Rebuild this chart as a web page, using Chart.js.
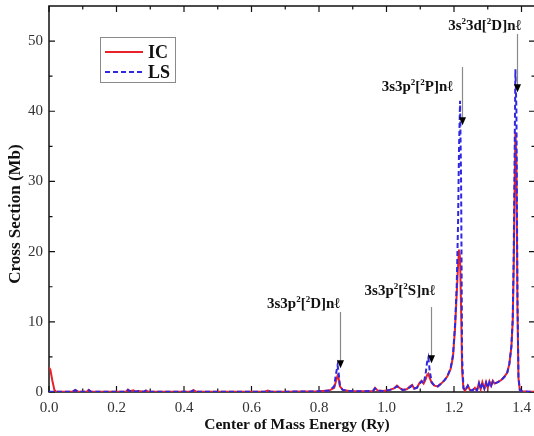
<!DOCTYPE html>
<html lang="en">
<head>
<meta charset="UTF-8">
<title>Cross Section: IC vs LS</title>
<script src="https://cdn.jsdelivr.net/npm/chart.js"></script>
<style>
  html, body { margin: 0; padding: 0; background: #fff; overflow: hidden; }
  canvas { display: block; }
</style>
</head>
<body>
<canvas id="myChart" width="540" height="436"></canvas>
<script>
// center of mass energy (Ry)
const energy = [
  0.000, 0.004, 0.010, 0.016, 0.022, 0.050, 0.070, 0.078, 0.086, 0.100,
  0.112, 0.118, 0.124, 0.150, 0.200, 0.228, 0.234, 0.240, 0.250, 0.256,
  0.265, 0.280, 0.287, 0.295, 0.330, 0.400, 0.420, 0.428, 0.436, 0.480,
  0.560, 0.600, 0.640, 0.648, 0.656, 0.700, 0.760, 0.800, 0.830, 0.845,
  0.850, 0.855, 0.858, 0.862, 0.870, 0.890, 0.930, 0.960, 0.966, 0.974,
  0.990, 1.010, 1.022, 1.031, 1.038, 1.048, 1.060, 1.070, 1.076, 1.082,
  1.090, 1.098, 1.104, 1.110, 1.116, 1.120, 1.124, 1.128, 1.134, 1.142,
  1.152, 1.162, 1.172, 1.180, 1.190, 1.197, 1.203, 1.208, 1.212, 1.215,
  1.218, 1.221, 1.224, 1.228, 1.233, 1.241, 1.247, 1.254, 1.262, 1.268,
  1.274, 1.279, 1.284, 1.290, 1.295, 1.300, 1.305, 1.310, 1.315, 1.320,
  1.330, 1.340, 1.350, 1.358, 1.364, 1.370, 1.374, 1.377, 1.380, 1.382,
  1.385, 1.388, 1.391, 1.395, 1.400, 1.420, 1.440
];
// cross section (Mb), intermediate coupling
const icValues = [
  3.5, 3.2, 1.6, 0.3, 0.02, 0.02, 0.05, 0.3, 0.05, 0.03,
  0.05, 0.3, 0.05, 0.02, 0.03, 0.05, 0.35, 0.1, 0.25, 0.05,
  0.15, 0.03, 0.2, 0.03, 0.05, 0.03, 0.05, 0.25, 0.05, 0.03,
  0.05, 0.05, 0.05, 0.2, 0.05, 0.05, 0.06, 0.1, 0.2, 0.6,
  1.5, 2.3, 2.0, 0.8, 0.3, 0.15, 0.1, 0.15, 0.6, 0.2,
  0.15, 0.3, 0.5, 0.9, 0.6, 0.3, 0.4, 0.8, 1.0, 0.5,
  0.6, 1.3, 1.6, 1.2, 1.8, 2.4, 2.6, 2.0, 1.3, 0.9,
  0.8, 1.2, 1.7, 2.2, 3.3, 5.0, 9, 14, 18, 20.3,
  19, 12, 3, 0.5, 0.2, 0.9, 0.3, 0.2, 0.6, 0.2,
  1.3, 0.4, 1.4, 0.5, 1.4, 0.6, 1.5, 0.9, 1.6, 1.2,
  1.4, 1.7, 2.2, 2.8, 4.0, 6.4, 10, 18, 30, 37,
  33, 12, 2, 0.3, 0.1, 0.05, 0.05
];
// cross section (Mb), LS coupling
const lsValues = [
  0.05, 0.05, 0.05, 0.05, 0.03, 0.02, 0.05, 0.25, 0.05, 0.03,
  0.05, 0.25, 0.05, 0.02, 0.03, 0.05, 0.3, 0.1, 0.2, 0.05,
  0.15, 0.03, 0.2, 0.03, 0.05, 0.03, 0.05, 0.2, 0.05, 0.03,
  0.05, 0.05, 0.05, 0.2, 0.05, 0.05, 0.06, 0.1, 0.2, 0.8,
  2.5, 3.8, 2.8, 0.9, 0.3, 0.15, 0.1, 0.15, 0.5, 0.2,
  0.15, 0.3, 0.5, 0.8, 0.6, 0.3, 0.4, 0.7, 0.9, 0.5,
  0.6, 1.2, 1.5, 1.2, 2.6, 4.2, 4.9, 3.0, 1.4, 0.9,
  0.8, 1.2, 1.7, 2.2, 3.4, 5.3, 9.5, 15, 24, 35,
  41.5, 30, 5, 0.6, 0.2, 0.9, 0.3, 0.2, 0.6, 0.2,
  1.2, 0.4, 1.3, 0.5, 1.3, 0.6, 1.4, 0.9, 1.5, 1.2,
  1.4, 1.7, 2.2, 2.8, 4.0, 6.5, 10.5, 20, 36, 46,
  40, 14, 2, 0.3, 0.1, 0.05, 0.05
];

const xTicks = [0, 0.2, 0.4, 0.6, 0.8, 1.0, 1.2, 1.4];
const xMinor = [0.1, 0.3, 0.5, 0.7, 0.9, 1.1, 1.3];
const yTicks = [0, 10, 20, 30, 40, 50];
const yMinor = [5, 15, 25, 35, 45];

// resonance labels: text (^ = next char superscript), positions in data units
const notes = [
  { text: '3s3p^2[^2D]nℓ', textX: 0.862, textY: 12.0, arrowX: 0.862, fromY: 11.4, toY: 3.4 },
  { text: '3s3p^2[^2S]nℓ', textX: 1.144, textY: 13.8, arrowX: 1.132, fromY: 12.1, toY: 4.1 },
  { text: '3s3p^2[^2P]nℓ', textX: 1.197, textY: 42.9, arrowX: 1.224, fromY: 46.3, toY: 38.0 },
  { text: '3s^23d[^2D]nℓ', textX: 1.399, textY: 51.6, arrowX: 1.387, fromY: 51.0, toY: 42.7 }
];

const SERIF = '"Liberation Serif", "Times New Roman", serif';
const RED = 'rgb(232, 34, 40)';
const BLUE = 'rgb(48, 40, 225)';

function drawRich(ctx, text, xRight, baseline, size) {
  const parts = [];
  for (let i = 0; i < text.length; i++) {
    if (text[i] === '^') { parts.push({ t: text[i + 1], sup: true }); i++; }
    else parts.push({ t: text[i], sup: false });
  }
  const fontOf = p => 'bold ' + (p.sup ? Math.round(size * 0.62) : size) + 'px ' + SERIF;
  let w = 0;
  parts.forEach(p => { ctx.font = fontOf(p); w += ctx.measureText(p.t).width; });
  let x = xRight - w;
  ctx.textAlign = 'left';
  ctx.textBaseline = 'alphabetic';
  parts.forEach(p => {
    ctx.font = fontOf(p);
    ctx.fillText(p.t, x, baseline - (p.sup ? size * 0.4 : 0));
    x += ctx.measureText(p.t).width;
  });
}

const framePlugin = {
  id: 'frame',
  beforeDatasetsDraw(chart) {
    const { ctx, chartArea: a, scales: { x, y } } = chart;
    ctx.save();
    ctx.strokeStyle = '#111';
    ctx.lineWidth = 1.5;
    ctx.strokeRect(a.left, a.top, a.right - a.left, a.bottom - a.top);
    ctx.lineWidth = 1.2;
    ctx.beginPath();
    const tx = (v, len) => {
      const px = x.getPixelForValue(v);
      ctx.moveTo(px, a.bottom); ctx.lineTo(px, a.bottom - len);
      ctx.moveTo(px, a.top); ctx.lineTo(px, a.top + len);
    };
    const ty = (v, len) => {
      const py = y.getPixelForValue(v);
      ctx.moveTo(a.left, py); ctx.lineTo(a.left + len, py);
      ctx.moveTo(a.right, py); ctx.lineTo(a.right - len, py);
    };
    xTicks.forEach(v => tx(v, 6));
    xMinor.forEach(v => tx(v, 3.5));
    yTicks.forEach(v => ty(v, 6));
    yMinor.forEach(v => ty(v, 3.5));
    ctx.stroke();

    // axis titles
    ctx.fillStyle = '#111';
    ctx.font = 'bold 15.5px ' + SERIF;
    ctx.textAlign = 'center';
    ctx.textBaseline = 'alphabetic';
    ctx.fillText('Center of Mass Energy (Ry)', 297, 429);
    ctx.save();
    ctx.translate(20, 214);
    ctx.rotate(-Math.PI / 2);
    ctx.font = 'bold 17px ' + SERIF;
    ctx.fillText('Cross Section (Mb)', 0, 0);
    ctx.restore();
    ctx.restore();
  },
  afterDatasetsDraw(chart) {
    const { ctx, scales: { x, y } } = chart;
    ctx.save();
    notes.forEach(n => {
      ctx.fillStyle = '#111';
      drawRich(ctx, n.text, x.getPixelForValue(n.textX), y.getPixelForValue(n.textY), 15);
      const ax = Math.round(x.getPixelForValue(n.arrowX)) + 0.5;
      const y0 = y.getPixelForValue(n.fromY);
      const y1 = y.getPixelForValue(n.toY);
      ctx.strokeStyle = '#8a8a8a';
      ctx.lineWidth = 1.2;
      ctx.beginPath();
      ctx.moveTo(ax, y0);
      ctx.lineTo(ax, y1 - 6);
      ctx.stroke();
      ctx.fillStyle = '#000';
      ctx.beginPath();
      ctx.moveTo(ax - 3.5, y1 - 8);
      ctx.lineTo(ax + 3.5, y1 - 8);
      ctx.lineTo(ax, y1);
      ctx.closePath();
      ctx.fill();
    });

    // legend box
    const lx = 100, ly = 37, lw = 75, lh = 45;
    ctx.strokeStyle = '#8a8a8a';
    ctx.lineWidth = 1;
    ctx.strokeRect(lx + 0.5, ly + 0.5, lw, lh);
    chart.data.datasets.slice().reverse().forEach((ds, i) => {
      const yy = ly + 15 + i * 20;
      ctx.strokeStyle = ds.borderColor;
      ctx.lineWidth = 2.2;
      ctx.setLineDash(ds.borderDash || []);
      ctx.beginPath();
      ctx.moveTo(lx + 5, yy);
      ctx.lineTo(lx + 43, yy);
      ctx.stroke();
      ctx.setLineDash([]);
      ctx.fillStyle = '#111';
      ctx.font = 'bold 18px ' + SERIF;
      ctx.textAlign = 'left';
      ctx.textBaseline = 'middle';
      ctx.fillText(ds.label, lx + 48, yy + 1);
    });
    ctx.restore();
  }
};

const ctx = document.getElementById('myChart').getContext('2d');
new Chart(ctx, {
  type: 'line',
  data: {
    datasets: [
      {
        label: 'LS',
        data: energy.map((e, i) => ({ x: e, y: lsValues[i] })),
        borderColor: BLUE,
        borderWidth: 2,
        borderDash: [5, 3],
        pointRadius: 0,
        tension: 0,
        fill: false,
        order: 0
      },
      {
        label: 'IC',
        data: energy.map((e, i) => ({ x: e, y: icValues[i] })),
        borderColor: RED,
        borderWidth: 2,
        pointRadius: 0,
        tension: 0,
        fill: false,
        order: 1
      }
    ]
  },
  options: {
    responsive: false,
    animation: false,
    devicePixelRatio: 1,
    layout: { padding: { top: 6, right: 5, left: 0, bottom: 0 } },
    plugins: { legend: { display: false }, tooltip: { enabled: false } },
    scales: {
      x: {
        type: 'linear',
        min: 0,
        max: 1.44,
        afterBuildTicks: s => { s.ticks = xTicks.map(v => ({ value: v })); },
        afterFit: s => { s.height = 44; s.paddingLeft = 0; s.paddingRight = 0; },
        grid: { display: false, drawTicks: false },
        border: { display: false },
        ticks: {
          padding: 7,
          color: '#333',
          font: { family: SERIF, size: 15 },
          callback: v => v.toFixed(1)
        }
      },
      y: {
        type: 'linear',
        min: 0,
        max: 55,
        afterBuildTicks: s => { s.ticks = yTicks.map(v => ({ value: v })); },
        afterFit: s => { s.width = 49; s.paddingTop = 0; s.paddingBottom = 0; },
        grid: { display: false, drawTicks: false },
        border: { display: false },
        ticks: {
          padding: 6,
          color: '#333',
          font: { family: SERIF, size: 15 }
        }
      }
    }
  },
  plugins: [framePlugin]
});
</script>
</body>
</html>
